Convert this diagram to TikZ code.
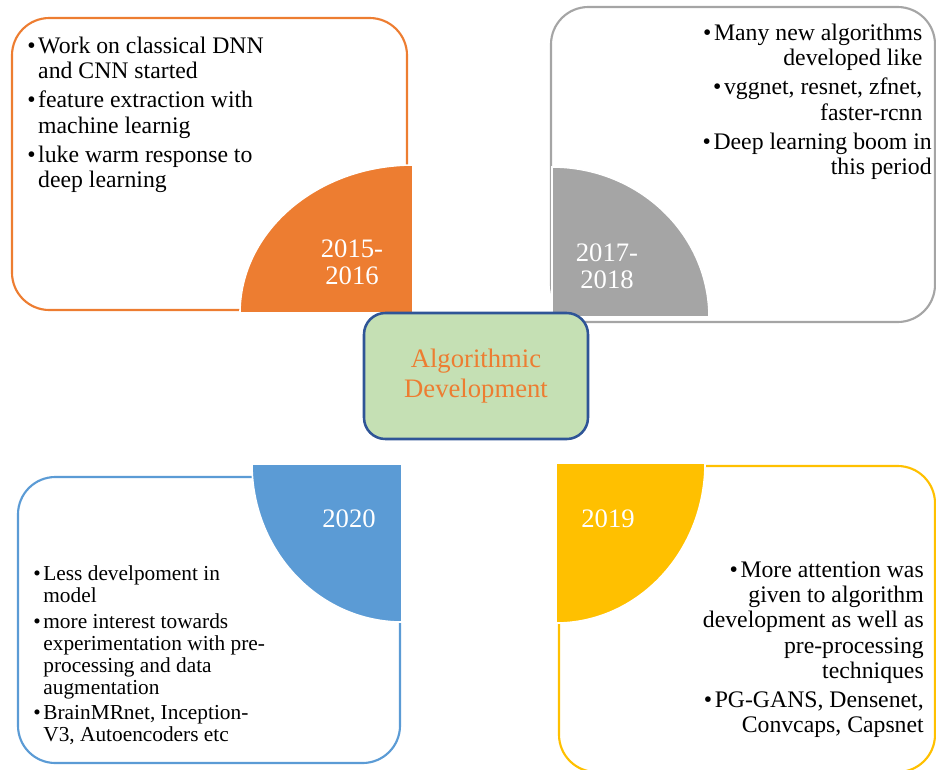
\documentclass[tikz,border=0pt]{standalone}
\usepackage{fontspec}
\setmainfont{Liberation Serif}
\usepackage{xcolor}
\usepackage{tikz}
\definecolor{OrangeAcc}{HTML}{ED7D31}
\definecolor{GrayAcc}{HTML}{A5A5A5}
\definecolor{BlueAcc}{HTML}{5B9BD5}
\definecolor{GoldAcc}{HTML}{FFC000}
\definecolor{GreenFill}{HTML}{C5E0B4}
\definecolor{NavyRule}{HTML}{2F5597}
\newcommand{\bul}{\textbullet}

\begin{document}
\begin{tikzpicture}[x=0.75pt,y=-0.75pt,
    panel/.style={rounded corners=28pt,line width=1.6pt},
    quarter/.style={draw=white,line width=1.2pt},
    year/.style={text=white,align=center,inner sep=0pt,font=\fontsize{20}{20.5}\selectfont},
    notes/.style={inner sep=0pt,font=\fontsize{17.8}{19}\selectfont}]
  \clip (0,0) rectangle (936,769);
  % outlined panels
  \draw[panel,OrangeAcc] (12,18) rectangle (407,310);
  \draw[panel,GrayAcc] (551,7) rectangle (935,322);
  \draw[panel,BlueAcc] (18,477) rectangle (400,763);
  \draw[panel,GoldAcc] (559,466) rectangle (935,772);
  % quarter discs in the inner corners
  \filldraw[quarter,fill=OrangeAcc] (413,313) -- (240,313)
    arc[start angle=180,end angle=270,x radius=173,y radius=148] -- cycle;
  \filldraw[quarter,fill=GrayAcc] (552,317) -- (552,167)
    arc[start angle=270,end angle=360,x radius=157,y radius=150] -- cycle;
  \filldraw[quarter,fill=BlueAcc] (402,464) -- (252,464)
    arc[start angle=180,end angle=90,x radius=150,y radius=158] -- cycle;
  \filldraw[quarter,fill=GoldAcc] (556,463) -- (705,463)
    arc[start angle=0,end angle=90,x radius=149,y radius=160] -- cycle;
  \node[year] (yr1516) at (352,262) {2015-\\2016};
  \node[year] (yr1718) at (607,266) {2017-\\2018};
  \node[year] (yr20) at (349,519) {2020};
  \node[year] (yr19) at (608,519) {2019};
  % bullet notes
  \node[notes,anchor=north west] (txt1516) at (27,35) {%
    \begin{tabular}{@{}l@{\hspace{2pt}}l@{}}
      \bul & Work on classical DNN\\
           & and CNN started\\[3pt]
      \bul & feature extraction with\\
           & machine learnig\\[3pt]
      \bul & luke warm response to\\
           & deep learning
    \end{tabular}};
  \node[notes,anchor=north east] (txt1718) at (932,22) {%
    \begin{tabular}{@{}r@{}}
      \bul\hspace{2pt}Many new algorithms\hspace*{7pt}\\
      developed like\hspace*{7pt}\\[3pt]
      \bul\hspace{2pt}vggnet, resnet, zfnet,\hspace*{7pt}\\
      faster-rcnn\hspace*{7pt}\\[3pt]
      \bul\hspace{2pt}Deep learning boom in\\
      this period
    \end{tabular}};
  \node[notes,anchor=north east] (txt19) at (924,559) {%
    \begin{tabular}{@{}r@{}}
      \bul\hspace{2pt}More attention was\\
      given to algorithm\\
      development as well as\\
      pre-processing\\
      techniques\\[2.5pt]
      \bul\hspace{2pt}PG-GANS, Densenet,\\
      Convcaps, Capsnet
    \end{tabular}};
  \node[notes,font=\fontsize{16}{16.5}\selectfont,anchor=north west] (txt20) at (33,565) {%
    \begin{tabular}{@{}l@{\hspace{2pt}}l@{}}
      \bul & Less develpoment in\\
           & model\\[2.5pt]
      \bul & more interest towards\\
           & experimentation with pre-\\
           & processing and data\\
           & augmentation\\[2.5pt]
      \bul & BrainMRnet, Inception-\\
           & V3, Autoencoders etc
    \end{tabular}};
  % centre label
  \node[draw=NavyRule,line width=1.9pt,fill=GreenFill,rounded corners=16pt,
        minimum width=168pt,minimum height=94.5pt,text=OrangeAcc,align=center,
        font=\fontsize{20}{23}\selectfont] (alg) at (476,376) {Algorithmic\\Development};
\end{tikzpicture}
\end{document}
